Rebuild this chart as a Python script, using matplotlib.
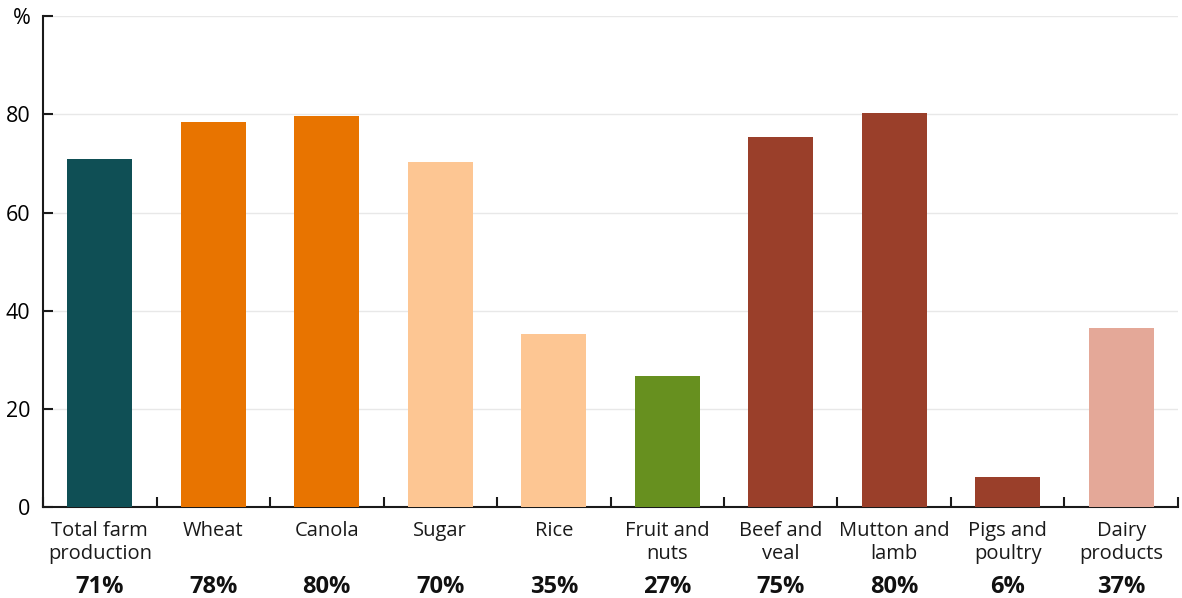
import matplotlib
matplotlib.use("Agg")
import matplotlib.pyplot as plt
import numpy as np

categories = ["Total farm\nproduction", "Wheat", "Canola", "Sugar", "Rice",
              "Fruit and\nnuts", "Beef and\nveal", "Mutton and\nlamb",
              "Pigs and\npoultry", "Dairy\nproducts"]
values = [70.9, 78.4, 79.7, 70.3, 35.2, 26.7, 75.4, 80.2, 6.1, 36.5]
pct_labels = ["71%", "78%", "80%", "70%", "35%", "27%", "75%", "80%", "6%", "37%"]
bar_colors = ["#0f4f55", "#e87400", "#e87400", "#fdc693", "#fdc693",
              "#67901f", "#9a3f2a", "#9a3f2a", "#9a3f2a", "#e4a898"]
y_ticks = [0, 20, 40, 60, 80, 100]
y_tick_labels = ["0", "20", "40", "60", "80", "%"]

plt.rcParams["font.family"] = ["Open Sans", "DejaVu Sans"]

fig = plt.figure(figsize=(11.82, 5.98), dpi=100)
ax = fig.add_axes([0.0364, 0.152, 0.9602, 0.821])

x = np.arange(len(categories))
ax.bar(x, values, width=0.57, color=bar_colors, zorder=3)

ax.set_xlim(-0.5, len(categories) - 0.5)
ax.set_ylim(0, 100)
ax.set_yticks(y_ticks)
ax.set_yticklabels(y_tick_labels, fontsize=15.5)
ax.yaxis.grid(True, color="#e8e8e8", linewidth=1, zorder=0)

ax.set_xticks(np.arange(len(categories) + 1) - 0.5)
ax.set_xticklabels([])
ax.tick_params(axis="both", direction="in", length=7, width=1.5, color="#1a1a1a")
ax.tick_params(axis="y", pad=9)

for side in ("top", "right"):
    ax.spines[side].set_visible(False)
for side in ("left", "bottom"):
    ax.spines[side].set_linewidth(1.5)
    ax.spines[side].set_color("#1a1a1a")

for xi, cat, pct in zip(x, categories, pct_labels):
    ax.text(xi, -2.8, cat, ha="center", va="top", fontsize=14.5,
            linespacing=1.2, color="#1a1a1a")
    ax.text(xi, -13.8, pct, ha="center", va="top", fontsize=17,
            fontweight="bold", color="#111111")

fig.savefig("out.png", dpi=100)
